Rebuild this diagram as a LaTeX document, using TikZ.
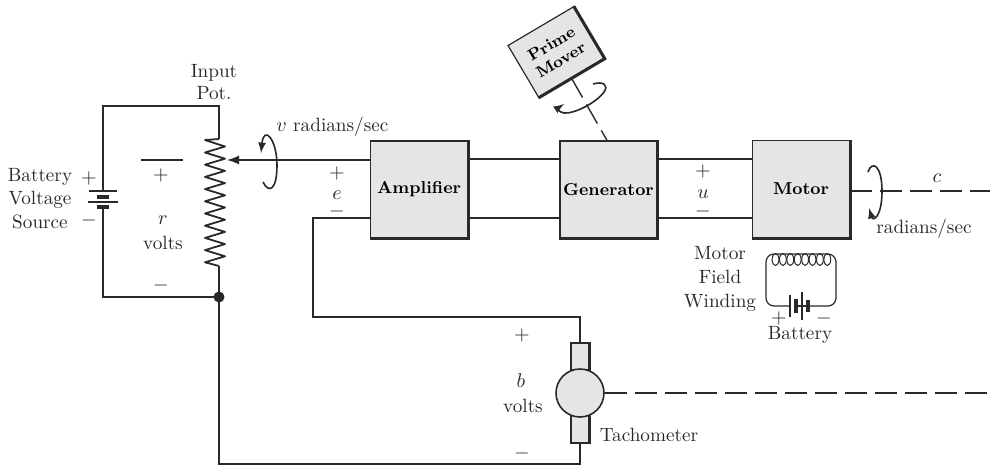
\documentclass[tikz,border=0pt]{standalone}
\usepackage{amsmath, amssymb}
\usepackage{tikz}
\definecolor{ink}{gray}{0.16}
\definecolor{boxfill}{gray}{0.9}
\tikzset{
  wire/.style={draw=ink, line width=1.1pt},
  thinwire/.style={draw=ink, line width=0.6pt},
  shaft/.style={draw=ink, line width=0.7pt, dash pattern=on 11pt off 4pt},
  spin/.style={draw=ink, line width=0.8pt, -latex},
  unit/.style={draw=ink, line width=0.6pt, fill=boxfill, minimum width=48.5pt, minimum height=48.5pt, inner sep=0pt, font=\fontsize{8.6}{10}\bfseries\selectfont},
  brush/.style={draw=ink, line width=0.7pt, fill=boxfill, minimum width=9pt, minimum height=13.5pt, inner sep=0pt},
  lab/.style={text=ink, inner sep=0pt, align=center, font=\fontsize{9.6}{10.8}\selectfont},
}
\begin{document}
\begin{tikzpicture}[x=0.5pt, y=-0.5pt]
  \useasboundingbox (0,0) rectangle (990,467);
  % blocks
  \node[unit] (amp) at (419,189.5) {Amplifier};
  \node[unit] (gen) at (608.5,189.5) {Generator};
  \node[unit] (motor) at (801,189) {Motor};
  \node[unit, rotate=30.6, minimum width=38pt, minimum height=30pt, align=center, font=\fontsize{8}{9.4}\bfseries\selectfont] (prime) at (556,52) {Prime\\Mover};
  % heavy lower and right edges
  \foreach \n in {amp, gen, motor, prime}
    \draw[draw=ink, line width=1.5pt] (\n.north east) -- (\n.south east) -- (\n.south west);
  % input pot
  \coordinate (topleft) at (103,106);
  \coordinate (topright) at (219,106);
  \coordinate (pottop) at (219,139);
  \coordinate (potbot) at (219,266);
  \coordinate (botleft) at (103,297);
  \coordinate (botright) at (219,297);
  \coordinate (wiper) at (227,160);
  \coordinate (battop) at (103,191);
  \coordinate (batbot) at (103,207);
  \draw[wire] (battop) -- (topleft) -- (topright) -- (pottop);
  \draw[wire] (batbot) -- (botleft) -- (botright) -- (potbot);
  \draw[thinwire, line width=0.9pt, line join=round] (pottop) -- (205,140)
    \foreach \k in {0,...,9} { -- (225,{146.5+\k*12.2}) -- (205,{152.5+\k*12.2}) }
    -- (potbot);
  \fill[ink] (botright) circle (5.5);
  % input battery
  \draw[thinwire] (89,191) -- (117,191);
  \draw[wire, line width=2pt] (97,196.5) -- (109,196.5);
  \draw[thinwire] (88,202) -- (118,202);
  \draw[wire, line width=2pt] (97,207) -- (109,207);
  % feedback loop
  \node[brush] (brushtop) at (580,356.5) {};
  \node[brush] (brushbot) at (580,429) {};
  \node[circle, draw=ink, line width=0.8pt, fill=boxfill, minimum size=24pt, inner sep=0pt] (tach) at (580,393) {};
  \draw[draw=ink, line width=1.2pt] (brushtop.north east) -- (brushtop.south east);
  \draw[draw=ink, line width=1.2pt] (brushbot.north east) -- (brushbot.south east) -- (brushbot.south west);
  \coordinate (ampe) at (313,218);
  \coordinate (tachl) at (313,317);
  \coordinate (tachr) at (580,317);
  \coordinate (bot1) at (219,464);
  \coordinate (bot2) at (580,464);
  \draw[wire] (amp.west |- ampe) -- (ampe) -- (tachl) -- (tachr) -- (brushtop.north);
  \draw[wire] (botright) -- (bot1) -- (bot2) -- (brushbot.south);
  % forward path
  \draw[wire, -latex] (amp.west |- 0,160) -- (wiper);
  \draw[wire] (amp.east |- 0,159) -- (gen.west |- 0,159);
  \draw[wire] (amp.east |- 0,218) -- (gen.west |- 0,218);
  \draw[wire] (gen.east |- 0,159) -- (motor.west |- 0,159);
  \draw[wire] (gen.east |- 0,218) -- (motor.west |- 0,218);
  % shafts
  \coordinate (motorend) at (990,191);
  \coordinate (tachend) at (990,393);
  \draw[shaft] (motor.east |- motorend) -- (motorend);
  \draw[shaft] (tach.east) -- (tachend);
  \draw[shaft] (prime.south) -- (gen.north -| 607,0);
  % rotation arrows
  \draw[spin] (263,182) .. controls (269,194) and (277,190) .. (277,165) .. controls (277,140) and (264,124) .. (261,153);
  \draw[spin] (868,172) .. controls (872,160) and (882,165) .. (882,191) .. controls (882,217) and (873,222) .. (869,208);
  \draw[spin] (593,84) .. controls (603,81) and (609,85) .. (604,92) .. controls (596,103) and (574,114) .. (564,113) .. controls (558,112) and (558,108) .. (564,104);
  % motor field
  \coordinate (fieldl) at (790,306);
  \coordinate (fieldr) at (808,306);
  \draw[thinwire, rounded corners=4pt] (fieldl) -- (766,306) -- (766,254) -- (836,254) -- (836,306) -- (fieldr);
  \foreach \k in {0,...,7}
    \draw[thinwire, line width=0.5pt] ({775.5+\k*7.4},259.5) ellipse (3.4 and 6);
  \draw[thinwire] (790,295) -- (790,317);
  \draw[wire, line width=2.2pt] (796,299) -- (796,313);
  \draw[thinwire] (802,292) -- (802,320);
  \draw[wire, line width=2.2pt] (808,300) -- (808,312);
  \draw[thinwire] (796,306) -- (808,306);
  % labels
  \draw[thinwire] (141,160) -- (183,160);
  \node[lab] (potlab) at (214,82) {Input\\Pot.};
  \node[lab] (batlab) at (40,198.5) {Battery\\[1pt]Voltage\\[1pt]Source};
  \node[lab] (batplus) at (89,178) {$+$};
  \node[lab] (batminus) at (89,220) {$-$};
  \node[lab] (rplus) at (161,175) {$+$};
  \node[lab] (rsym) at (163,220) {$r$};
  \node[lab] (rvolts) at (163,243) {volts};
  \node[lab] (rminus) at (161,285) {$-$};
  \node[lab, anchor=west] (vlab) at (276,127) {$v$ radians/sec};
  \node[lab] (eplus) at (337,173) {$+$};
  \node[lab] (esym) at (337,195) {$e$};
  \node[lab] (eminus) at (337,211) {$-$};
  \node[lab] (uplus) at (703,171) {$+$};
  \node[lab] (usym) at (703,194) {$u$};
  \node[lab] (uminus) at (703,211) {$-$};
  \node[lab] (csym) at (937,178) {$c$};
  \node[lab] (clab) at (924,229) {radians/sec};
  \node[lab] (fieldlab) at (720,279) {Motor\\[1pt]Field\\[1pt]Winding};
  \node[lab] (fplus) at (779,318) {$+$};
  \node[lab] (fminus) at (824,318) {$-$};
  \node[lab] (fbat) at (800,335) {Battery};
  \node[lab] (bplus) at (522,335) {$+$};
  \node[lab] (bsym) at (521,381) {$b$};
  \node[lab] (bvolts) at (523,406) {volts};
  \node[lab] (bminus) at (522,453) {$-$};
  \node[lab] (tachlab) at (649,435) {Tachometer};
\end{tikzpicture}
\end{document}
